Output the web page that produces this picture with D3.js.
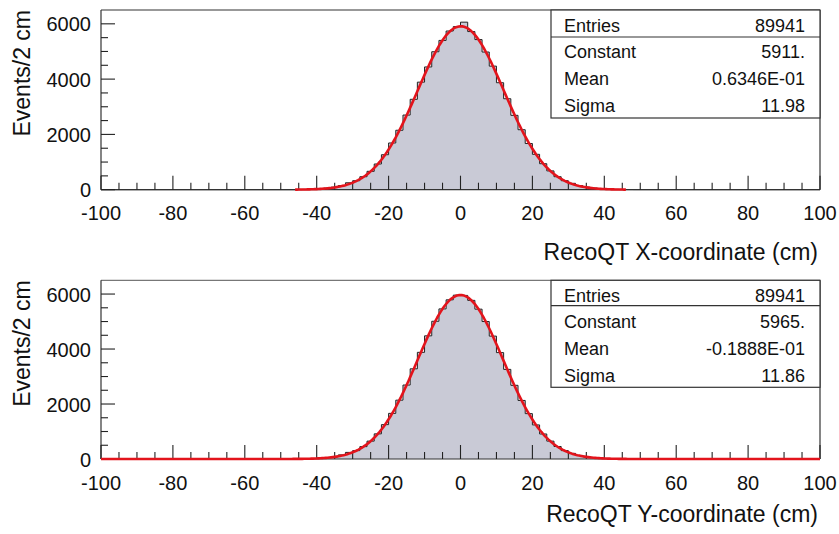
<!DOCTYPE html>
<html><head><meta charset="utf-8">
<script src="https://cdn.jsdelivr.net/npm/d3@7"></script>
<style>
html,body{margin:0;padding:0;background:#fff;}
svg{display:block;font-family:"Liberation Sans",Arial,Helvetica,sans-serif;}
</style></head>
<body>
<svg id="chart" width="839" height="534"></svg>
<script>
// ---- data ----
// 2 cm bins, low edge of first listed bin = -50; bins outside [-50,50) are empty
const binLowEdges = d3.range(-50, 50, 2);
const countsX = [0,0,3,10,20,34,55,92,150,250,325,470,665,930,1265,1690,2150,2700,3270,3890,4440,4990,5400,5740,5900,
                 6060,5720,5430,4980,4470,3870,3290,2690,2170,1670,1280,940,680,470,325,230,150,92,58,36,21,11,5,2,1];
const countsY = [0,1,3,8,16,29,48,80,150,240,305,450,650,915,1250,1660,2140,2690,3280,3880,4480,5010,5460,5790,5960,
                 5950,5770,5450,5000,4470,3870,3260,2680,2130,1650,1240,910,650,455,305,205,130,82,50,30,17,9,4,2,0];
const statLabels = ["Entries","Constant","Mean","Sigma"];
const statsX = ["89941","5911.","0.6346E-01","11.98"];
const statsY = ["89941","5965.","-0.1888E-01","11.86"];
const fitX = {constant:5911, mean:0.06346, sigma:11.98, range:[-46,46]};
const fitY = {constant:5965, mean:-0.01888, sigma:11.86, range:[-100,100]};
const xTickLabels = [-100,-80,-60,-40,-20,0,20,40,60,80,100];
const yTickLabels = [0,2000,4000,6000];
const xTitles = ["RecoQT X-coordinate (cm)","RecoQT Y-coordinate (cm)"];
const yTitle = "Events/2 cm";

// ---- layout ----
const panels = [
  {counts:countsX, stats:statsX, fit:fitX, xt:xTitles[0], top:10, bottom:189.7, titleBase:260, boxBottom:118, sep:37, topColor:"#333"},
  {counts:countsY, stats:statsY, fit:fitY, xt:xTitles[1], top:280.3, bottom:459, titleBase:522, boxBottom:387.3, sep:305.7, topColor:"#777"}
];
const L = 101, R = 820;
const svg = d3.select("#chart");

panels.forEach(p => {
  const g = svg.append("g");
  const x = d3.scaleLinear().domain([-100,100]).range([L,R]);
  const y = d3.scaleLinear().domain([0,6500]).range([p.bottom,p.top]);

  // histogram fill + outline (step)
  const pts = [];
  pts.push([x(-100), y(0)]);
  binLowEdges.forEach((lo,i) => {
    pts.push([x(lo), y(p.counts[i])]);
    pts.push([x(lo+2), y(p.counts[i])]);
  });
  pts.push([x(100), y(0)]);
  g.append("path").attr("d", d3.line()(pts)).attr("fill","#c9cad6").attr("stroke","none");
  g.append("path").attr("d", d3.line()(pts)).attr("fill","none").attr("stroke","#222").attr("stroke-width",1);

  // frame (under the fit curve)
  g.append("line").attr("x1",L).attr("x2",R).attr("y1",p.top).attr("y2",p.top).attr("stroke",p.topColor).attr("stroke-width",1.2);
  g.append("line").attr("x1",L).attr("x2",L).attr("y1",p.top).attr("y2",p.bottom).attr("stroke","#333").attr("stroke-width",1.2);
  g.append("line").attr("x1",R).attr("x2",R).attr("y1",p.top).attr("y2",p.bottom).attr("stroke","#333").attr("stroke-width",1.2);
  g.append("line").attr("x1",L).attr("x2",R).attr("y1",p.bottom).attr("y2",p.bottom).attr("stroke","#333").attr("stroke-width",1.2);

  // x ticks (inside, upward)
  const minorX = d3.range(-100,100.01,5);
  g.selectAll(null).data(minorX).enter().append("line")
    .attr("x1",d=>x(d)).attr("x2",d=>x(d)).attr("y1",y(0))
    .attr("y2",d=> (d%20===0) ? y(0)-14 : y(0)-7)
    .attr("stroke","#222").attr("stroke-width",1.1);
  g.selectAll(null).data(xTickLabels).enter().append("text")
    .attr("x",d=>x(d)).attr("y",p.bottom+30.5).attr("text-anchor","middle")
    .attr("font-size",20).attr("fill","#111").text(d=>d);

  // y ticks (inside, rightward)
  const minorY = d3.range(0,6500,500);
  g.selectAll(null).data(minorY).enter().append("line")
    .attr("y1",d=>y(d)).attr("y2",d=>y(d)).attr("x1",L)
    .attr("x2",d=> (d%2000===0) ? L+14 : L+7)
    .attr("stroke","#222").attr("stroke-width",1.1);
  g.selectAll(null).data(yTickLabels).enter().append("text")
    .attr("x",L-10).attr("y",d=>y(d)+7.5).attr("text-anchor","end")
    .attr("font-size",20).attr("fill","#111").text(d=>d);

  // fit curve
  const f = p.fit;
  const xs = d3.range(f.range[0], f.range[1]+0.01, 0.5);
  g.append("path")
    .attr("d", d3.line()(xs.map(v => [x(v), y(f.constant*Math.exp(-0.5*((v-f.mean)/f.sigma)**2))])))
    .attr("fill","none").attr("stroke","#e3141c").attr("stroke-width",2.6).attr("stroke-linejoin","round");

  // titles
  g.append("text").attr("x",R-2).attr("y",p.titleBase).attr("text-anchor","end")
    .attr("font-size",23).attr("fill","#111").text(p.xt);
  g.append("text").attr("transform",`translate(30,${p.top}) rotate(-90)`).attr("text-anchor","end")
    .attr("font-size",23).attr("fill","#111").text(yTitle);

  // stats box
  const bx = 551;
  g.append("rect").attr("x",bx).attr("y",p.top).attr("width",R-bx).attr("height",p.boxBottom-p.top)
    .attr("fill","#fff").attr("stroke","#333").attr("stroke-width",1.2);
  g.append("line").attr("x1",bx).attr("x2",R).attr("y1",p.sep).attr("y2",p.sep)
    .attr("stroke","#333").attr("stroke-width",1.2);
  const rowBase = [21.5, 48, 75, 101.5];
  statLabels.forEach((lab,i) => {
    g.append("text").attr("x",bx+13).attr("y",p.top+rowBase[i]).attr("font-size",18).attr("fill","#111").text(lab);
    g.append("text").attr("x",R-15).attr("y",p.top+rowBase[i]).attr("text-anchor","end")
      .attr("font-size",18).attr("fill","#111").text(p.stats[i]);
  });
});
</script>
</body></html>
